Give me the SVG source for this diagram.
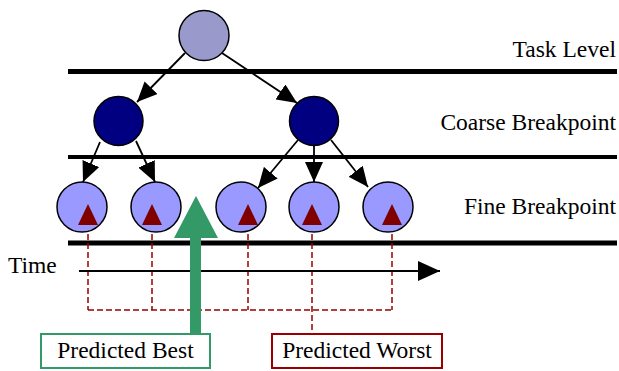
<svg xmlns="http://www.w3.org/2000/svg" width="619" height="371" viewBox="0 0 619 371" font-family="Liberation Serif, Times New Roman, serif">
<style>
.lvl{text-anchor:end}
.bar{stroke:#000;stroke-width:5}
.edge{stroke:#000;stroke-width:1.8;fill:none;marker-end:url(#ah)}
.node{stroke:#000;stroke-width:1.5}
.root{fill:#9999cc}
.coarse{fill:#000080}
.fine{fill:#9999ff}
.tri{fill:#800000}
.dash{stroke:#990000;stroke-width:1.5;stroke-dasharray:6,3;fill:none}
</style>
<defs>
<marker id="ah" markerUnits="userSpaceOnUse" markerWidth="20" markerHeight="18" refX="20" refY="9" orient="auto"><path d="M0,0 L20,9 L0,18 z" fill="#000"/></marker>
<marker id="tah" markerUnits="userSpaceOnUse" markerWidth="22" markerHeight="20" refX="22" refY="10" orient="auto"><path d="M0,0 L22,10 L0,20 z" fill="#000"/></marker>
</defs>
<rect width="619" height="371" fill="#fff"/>
<g id="levels">
<line class="bar" x1="68" y1="71.5" x2="617" y2="71.5"/>
<line class="bar" x1="68" y1="157" x2="617" y2="157" style="stroke-width:4"/>
<line class="bar" x1="68" y1="243" x2="617" y2="243"/>
<text x="616" y="57" text-anchor="end" font-family="Liberation Serif" font-size="23.5">Task Level</text>
<text x="616" y="130" text-anchor="end" font-family="Liberation Serif" font-size="23.5">Coarse Breakpoint</text>
<text x="616" y="214" text-anchor="end" font-family="Liberation Serif" font-size="23.5">Fine Breakpoint</text>
</g>
<g id="timeline">
<path class="dash" d="M88,225 V310 M152,225 V310 M248,225 V310 M312,225 V334 M392,225 V310 M88,310 H392"/>
<line x1="79" y1="271" x2="440" y2="271" stroke="#000" stroke-width="2" marker-end="url(#tah)"/>
<text x="8" y="273" font-family="Liberation Serif" font-size="23.5">Time</text>
</g>
<g id="connectors">
<line class="edge" x1="185" y1="53" x2="137" y2="102"/>
<line class="edge" x1="222" y1="53" x2="297" y2="103"/>
<line class="edge" x1="100" y1="142" x2="83" y2="182"/>
<line class="edge" x1="136" y1="141" x2="155" y2="182"/>
<line class="edge" x1="298" y1="140" x2="258" y2="188"/>
<line class="edge" x1="314" y1="146" x2="314" y2="182"/>
<line class="edge" x1="331" y1="140" x2="368" y2="187"/>
</g>
<g id="root"><circle class="node root" cx="204" cy="35.5" r="25"/></g>
<g id="coarse1"><circle class="node coarse" cx="118.5" cy="121" r="24.5"/></g>
<g id="coarse2"><circle class="node coarse" cx="314" cy="121" r="24.5"/></g>
<g id="fine1"><circle class="node fine" cx="82" cy="207" r="25"/><path class="tri" d="M78,225 L88,204 L98,225 z"/></g>
<g id="fine2"><circle class="node fine" cx="156" cy="207" r="25"/><path class="tri" d="M142,225 L152,204 L162,225 z"/></g>
<g id="fine3"><circle class="node fine" cx="241" cy="207" r="25"/><path class="tri" d="M238,225 L248,204 L258,225 z"/></g>
<g id="fine4"><circle class="node fine" cx="314" cy="207" r="25"/><path class="tri" d="M302,225 L312,204 L322,225 z"/></g>
<g id="fine5"><circle class="node fine" cx="388" cy="207" r="25"/><path class="tri" d="M382,225 L392,204 L402,225 z"/></g>
<g id="best">
<path d="M190,334 V238 H174 L196,196 L218,238 H201 V334 z" fill="#339966"/>
<rect x="41" y="334" width="169" height="34" fill="#fff" stroke="#339966" stroke-width="2"/>
<text x="125.5" y="358" text-anchor="middle" font-family="Liberation Serif" font-size="23.5">Predicted Best</text>
</g>
<g id="worst">
<rect x="272" y="334" width="170" height="34" fill="#fff" stroke="#990000" stroke-width="2"/>
<text x="357" y="358" text-anchor="middle" font-family="Liberation Serif" font-size="23.5">Predicted Worst</text>
</g>
</svg>
